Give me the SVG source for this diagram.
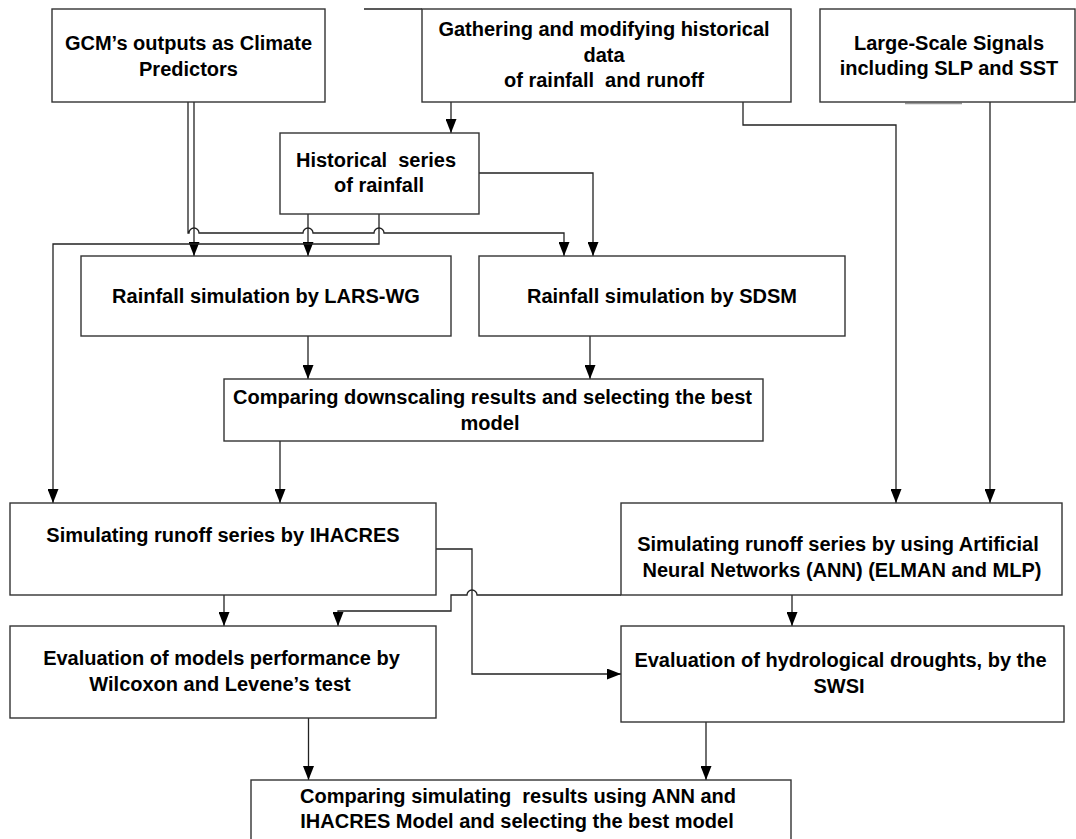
<svg xmlns="http://www.w3.org/2000/svg" width="1076" height="839" viewBox="0 0 1076 839">
<style>
.b{fill:#fff;stroke:#333;stroke-width:1.4}
.t{font-family:"Liberation Sans",Arial,sans-serif;font-weight:bold;font-size:20px;text-anchor:middle;fill:#000;white-space:pre}
.c{fill:none;stroke:#222;stroke-width:1.3}
</style>
<defs>
<marker id="ah" viewBox="0 0 14 11" refX="14" refY="5.5" markerWidth="14" markerHeight="11" markerUnits="userSpaceOnUse" orient="auto">
<path d="M0,0 L14,5.5 L0,11 z" fill="#000"/>
</marker>
</defs>
<rect width="1076" height="839" fill="#fff"/>
<g id="connectors">
<path class="c" d="M364,9 H422"/>
<path class="c" d="M905,103.5 H962" style="stroke:#999;stroke-width:1.5"/>
<path class="c" d="M451,102 V133" marker-end="url(#ah)"/>
<path class="c" d="M743,102 V125 H896 V503" marker-end="url(#ah)"/>
<path class="c" d="M990,102 V503" marker-end="url(#ah)"/>
<path class="c" d="M194,102 V256" marker-end="url(#ah)"/>
<path class="c" d="M188,102 V233 H189 A5,5 0 0 1 199,233 H303 A5,5 0 0 1 313,233 H374 A5,5 0 0 1 384,233 H564 V256" marker-end="url(#ah)"/>
<path class="c" d="M308,214 V256" marker-end="url(#ah)"/>
<path class="c" d="M379,214 V244 H53 V503" marker-end="url(#ah)"/>
<path class="c" d="M479,173 H593 V256" marker-end="url(#ah)"/>
<path class="c" d="M308,336 V379" marker-end="url(#ah)"/>
<path class="c" d="M590,336 V379" marker-end="url(#ah)"/>
<path class="c" d="M280,441 V503" marker-end="url(#ah)"/>
<path class="c" d="M224,595 V626" marker-end="url(#ah)"/>
<path class="c" d="M621,595 H477 A5,5 0 0 0 467,595 H451 V611 H338 V626" marker-end="url(#ah)"/>
<path class="c" d="M436,549 H472 V674 H621" marker-end="url(#ah)"/>
<path class="c" d="M792,595 V626" marker-end="url(#ah)"/>
<path class="c" d="M308.5,718 V780" marker-end="url(#ah)"/>
<path class="c" d="M706,722 V780" marker-end="url(#ah)"/>
</g>
<g id="gcm">
<rect class="b" x="52" y="9" width="273" height="93"/>
<text class="t" x="188.5" y="49.5">GCM’s outputs as Climate</text>
<text class="t" x="188.5" y="76">Predictors</text>
</g>
<g id="gathering">
<rect class="b" x="422" y="9" width="369" height="93"/>
<text class="t" x="604" y="36">Gathering and modifying historical</text>
<text class="t" x="604" y="61.5">data</text>
<text class="t" x="604" y="87" xml:space="preserve">of rainfall  and runoff</text>
</g>
<g id="largescale">
<rect class="b" x="820" y="9" width="255" height="93"/>
<text class="t" x="949" y="49.5">Large-Scale Signals</text>
<text class="t" x="949" y="75">including SLP and SST</text>
</g>
<g id="historical">
<rect class="b" x="280" y="133" width="199" height="81"/>
<text class="t" x="376" y="167" xml:space="preserve">Historical  series</text>
<text class="t" x="379" y="192">of rainfall</text>
</g>
<g id="larswg">
<rect class="b" x="81" y="256" width="370" height="80"/>
<text class="t" x="266" y="302.5">Rainfall simulation by LARS-WG</text>
</g>
<g id="sdsm">
<rect class="b" x="479" y="256" width="366" height="80"/>
<text class="t" x="662" y="302.5">Rainfall simulation by SDSM</text>
</g>
<g id="comparing-downscaling">
<rect class="b" x="224" y="379" width="539" height="62"/>
<text class="t" x="492.5" y="404">Comparing downscaling results and selecting the best</text>
<text class="t" x="490" y="430">model</text>
</g>
<g id="ihacres">
<rect class="b" x="10" y="503" width="426" height="92"/>
<text class="t" x="223" y="542">Simulating runoff series by IHACRES</text>
</g>
<g id="ann">
<rect class="b" x="621" y="503" width="441" height="92"/>
<text class="t" x="838" y="551">Simulating runoff series by using Artificial</text>
<text class="t" x="842" y="577">Neural Networks (ANN) (ELMAN and MLP)</text>
</g>
<g id="wilcoxon">
<rect class="b" x="10" y="626" width="426" height="92"/>
<text class="t" x="221.5" y="664.5">Evaluation of models performance by</text>
<text class="t" x="220" y="691">Wilcoxon and Levene’s test</text>
</g>
<g id="swsi">
<rect class="b" x="621" y="626" width="443" height="96"/>
<text class="t" x="840.5" y="667">Evaluation of hydrological droughts, by the</text>
<text class="t" x="839" y="693">SWSI</text>
</g>
<g id="final">
<rect class="b" x="251" y="780" width="540" height="70"/>
<text class="t" x="518" y="803" xml:space="preserve">Comparing simulating  results using ANN and</text>
<text class="t" x="517" y="828">IHACRES Model and selecting the best model</text>
</g>
</svg>
